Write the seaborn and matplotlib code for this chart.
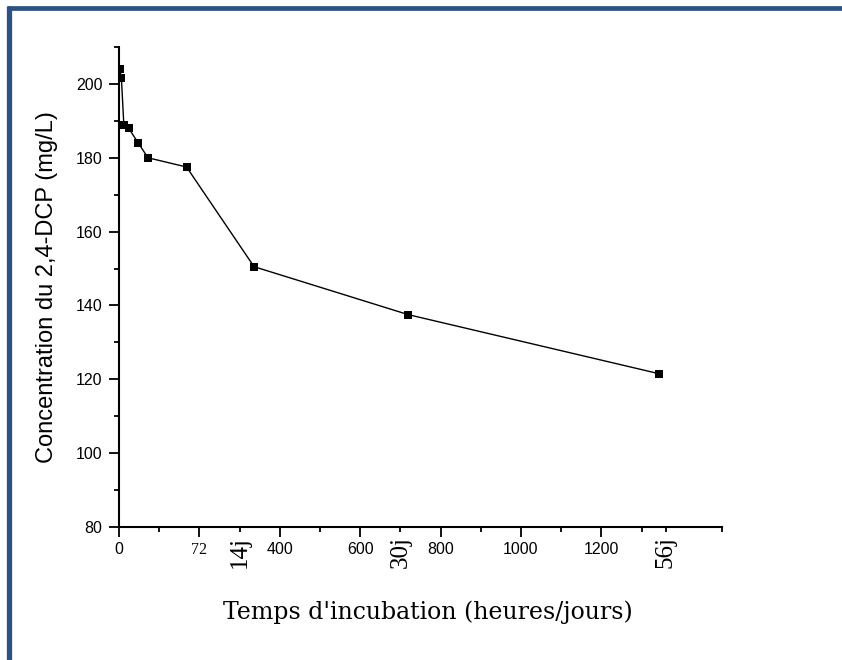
import matplotlib
matplotlib.use("Agg")
import matplotlib.pyplot as plt
from matplotlib.lines import Line2D
import seaborn as sns
import pandas as pd

# ---- data ----
time_h = [2, 6, 12, 24, 48, 72, 168, 336, 720, 1344]
conc_mgL = [204, 201.5, 189, 188, 184, 180, 177.5, 150.5, 137.5, 121.5]

major_x = [0, 200, 400, 600, 800, 1000, 1200]
major_x_labels = ["0", "72", "400", "600", "800", "1000", "1200"]
minor_x = [100, 300, 500, 700, 900, 1100, 1300, 1360, 1500]
minor_x_labels = ["", "14j", "", "30j", "", "", "", "56j", ""]
major_y = [80, 100, 120, 140, 160, 180, 200]
minor_y = [90, 110, 130, 150, 170, 190, 210]

xlabel = "Temps d'incubation (heures/jours)"
ylabel = "Concentration du 2,4-DCP (mg/L)"

sns.set_style("ticks")
plt.rcParams['font.family'] = ['Liberation Sans', 'DejaVu Sans']

W, H = 842, 660
fig = plt.figure(figsize=(W / 100, H / 100), dpi=100)
ax = fig.add_axes([119 / W, 1 - 527 / H, (722 - 119) / W, (527 - 47) / H])

df = pd.DataFrame({"t": time_h, "c": conc_mgL})
sns.lineplot(data=df, x="t", y="c", ax=ax, color="black", linewidth=1.0,
             marker="s", markersize=5.5, markeredgewidth=0, markerfacecolor="black")

ax.set_xlim(0, 1500)
ax.set_ylim(80, 210)
for s in ["top", "right"]:
    ax.spines[s].set_visible(False)
for s in ["left", "bottom"]:
    ax.spines[s].set_linewidth(1.5)
    ax.spines[s].set_color("black")

ax.set_xticks(major_x, labels=major_x_labels)
ax.set_xticks(minor_x, labels=minor_x_labels, minor=True)
ax.set_yticks(major_y, labels=[str(v) for v in major_y])
ax.set_yticks(minor_y, minor=True)

ax.tick_params(axis="both", which="major", direction="out", length=7, width=1.3,
               labelsize=11.5, colors="black")
ax.tick_params(axis="both", which="minor", direction="out", length=3.5, width=1.3,
               colors="black")
ax.tick_params(axis="y", which="major", pad=5)
ax.tick_params(axis="x", which="major", pad=4)
ax.tick_params(axis="x", which="minor", pad=3)

for lbl in ax.get_xticklabels():
    if lbl.get_text() == "72":
        lbl.set_fontfamily(["Liberation Serif", "DejaVu Serif"])
        lbl.set_fontsize(11.5)
for lbl in ax.get_xticklabels(minor=True):
    lbl.set_fontfamily(["Liberation Serif", "DejaVu Serif"])
    lbl.set_fontsize(18)
    lbl.set_rotation(90)
    lbl.set_va("top")
    lbl.set_ha("center")

ax.set_ylabel(ylabel, fontsize=17, color="black", family=["Liberation Sans", "DejaVu Sans"])
ax.yaxis.set_label_coords(-0.12, 0.5)
ax.yaxis.label.set_va("center")
ax.set_xlabel(xlabel, fontsize=17, color="black", family=["DejaVu Serif"])
ax.xaxis.set_label_coords((428 - 119) / 603, (527 - 612) / 480)
ax.xaxis.label.set_va("center")

# blue frame (top and left edges)
border = "#2C5282"
fig.add_artist(Line2D([6.5 / W, 1.0], [1 - 8.3 / H, 1 - 8.3 / H], transform=fig.transFigure,
                      color=border, linewidth=3.4, solid_capstyle="butt"))
fig.add_artist(Line2D([9.3 / W, 9.3 / W], [0, 1 - 6 / H], transform=fig.transFigure,
                      color=border, linewidth=3.8, solid_capstyle="butt"))

fig.savefig("out.png", dpi=100)
